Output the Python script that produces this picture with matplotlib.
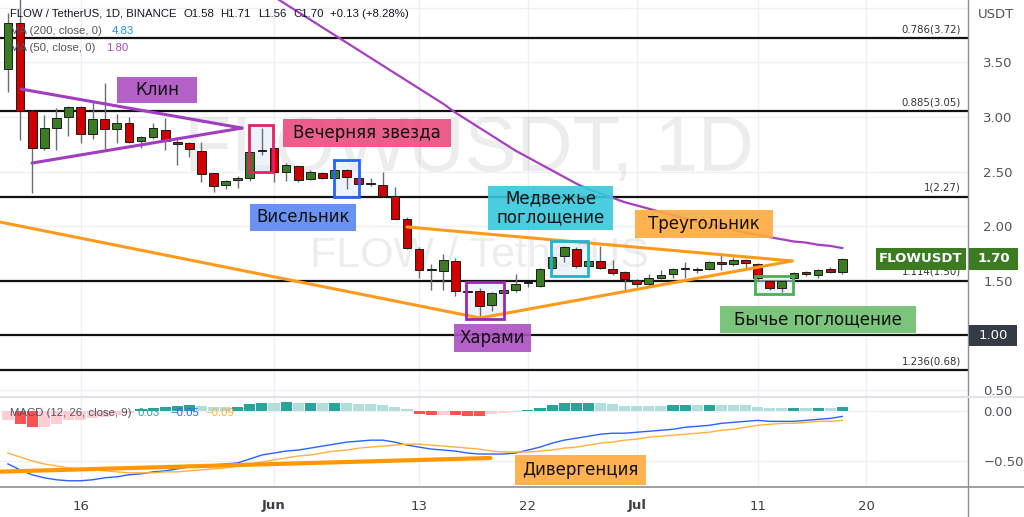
import numpy as np
import matplotlib
matplotlib.use("Agg")
import matplotlib.pyplot as plt
from matplotlib.patches import Rectangle
from matplotlib.lines import Line2D
from matplotlib.transforms import blended_transform_factory

# ---------------- data ----------------
opens = [3.44, 3.86, 3.05, 2.72, 2.90, 3.00, 3.09, 2.84, 2.98, 2.89,
         2.94, 2.78, 2.82, 2.88, 2.77, 2.76, 2.69, 2.49, 2.38, 2.42,
         2.44, 2.69, 2.72, 2.50, 2.55, 2.43, 2.49, 2.44, 2.51, 2.44,
         2.39, 2.38, 2.28, 2.07, 1.79, 1.60, 1.59, 1.68, 1.40, 1.41,
         1.28, 1.39, 1.42, 1.48, 1.45, 1.62, 1.73, 1.79, 1.64, 1.68,
         1.61, 1.58, 1.51, 1.47, 1.53, 1.56, 1.61, 1.60, 1.61, 1.67,
         1.65, 1.69, 1.65, 1.50, 1.43, 1.53, 1.58, 1.55, 1.61, 1.58]
highs = [3.95, 4.25, 3.06, 3.02, 3.08, 3.10, 3.10, 3.15, 3.31, 3.03,
         3.00, 2.83, 2.94, 2.99, 2.82, 2.77, 2.77, 2.49, 2.42, 2.46,
         2.68, 2.90, 2.72, 2.58, 2.55, 2.51, 2.50, 2.52, 2.52, 2.45,
         2.44, 2.50, 2.36, 2.08, 1.81, 1.65, 1.75, 1.71, 1.41, 1.43,
         1.40, 1.43, 1.56, 1.49, 1.62, 1.73, 1.82, 1.81, 1.69, 1.82,
         1.69, 1.59, 1.52, 1.56, 1.60, 1.62, 1.67, 1.63, 1.68, 1.74,
         1.72, 1.70, 1.66, 1.51, 1.51, 1.58, 1.59, 1.61, 1.63, 1.71]
lows = [3.23, 2.79, 2.30, 2.70, 2.70, 2.83, 2.76, 2.80, 2.71, 2.76,
        2.76, 2.72, 2.80, 2.70, 2.56, 2.63, 2.40, 2.31, 2.34, 2.35,
        2.41, 2.65, 2.40, 2.41, 2.40, 2.42, 2.43, 2.43, 2.34, 2.37,
        2.37, 2.27, 2.07, 1.79, 1.53, 1.42, 1.42, 1.36, 1.39, 1.17,
        1.22, 1.38, 1.40, 1.44, 1.44, 1.60, 1.67, 1.62, 1.62, 1.61,
        1.55, 1.42, 1.44, 1.44, 1.52, 1.53, 1.53, 1.57, 1.60, 1.60,
        1.64, 1.60, 1.50, 1.42, 1.40, 1.50, 1.54, 1.53, 1.57, 1.56]
closes = [3.86, 3.05, 2.72, 2.90, 2.99, 3.09, 2.84, 2.98, 2.89, 2.94,
          2.77, 2.82, 2.90, 2.78, 2.75, 2.71, 2.48, 2.37, 2.41, 2.44,
          2.68, 2.70, 2.50, 2.56, 2.42, 2.50, 2.44, 2.51, 2.45, 2.39,
          2.39, 2.28, 2.07, 1.80, 1.60, 1.61, 1.69, 1.41, 1.40, 1.27,
          1.39, 1.42, 1.47, 1.48, 1.61, 1.72, 1.81, 1.64, 1.68, 1.62,
          1.57, 1.52, 1.47, 1.53, 1.55, 1.61, 1.61, 1.60, 1.67, 1.65,
          1.69, 1.66, 1.53, 1.43, 1.50, 1.57, 1.56, 1.60, 1.58, 1.70]

ma50 = [np.nan] * 20 + [
    4.24, 4.17, 4.10, 4.03, 3.96, 3.89, 3.82, 3.75, 3.68, 3.61,
    3.54, 3.47, 3.40, 3.33, 3.26, 3.19, 3.12, 3.04, 2.97, 2.90,
    2.83, 2.76, 2.69, 2.63, 2.57, 2.51, 2.45, 2.39, 2.34, 2.30,
    2.26, 2.22, 2.19, 2.16, 2.13, 2.10, 2.07, 2.04, 2.02, 1.99,
    1.97, 1.94, 1.92, 1.90, 1.88, 1.86, 1.85, 1.83, 1.82, 1.80]

macd_hist = [-0.09, -0.125, -0.16, -0.155, -0.125, -0.09, -0.085, -0.07, -0.06, -0.04, -0.02,
             0.027, 0.035, 0.044, 0.06, 0.067, 0.054, 0.044, 0.043, 0.045, 0.077, 0.087,
             0.085, 0.094, 0.087, 0.088, 0.086, 0.087, 0.085, 0.077, 0.075, 0.067, 0.044, 0.020,
             -0.023, -0.034, -0.033, -0.040, -0.041, -0.042, -0.03, -0.02, -0.005, 0.017,
             0.034, 0.067, 0.087, 0.088, 0.089, 0.087, 0.077, 0.06, 0.059, 0.058, 0.057,
             0.066, 0.067, 0.065, 0.067, 0.065, 0.064, 0.063, 0.044, 0.034, 0.033, 0.034,
             0.033, 0.034, 0.033, 0.044]
macd_line = [-0.53, -0.59, -0.64, -0.67, -0.69, -0.70, -0.70, -0.69, -0.67, -0.66,
             -0.64, -0.63, -0.61, -0.60, -0.58, -0.56, -0.55, -0.54, -0.53, -0.52,
             -0.48, -0.44, -0.42, -0.40, -0.39, -0.37, -0.35, -0.33, -0.31, -0.30,
             -0.29, -0.29, -0.31, -0.34, -0.36, -0.38, -0.39, -0.40, -0.42, -0.43,
             -0.43, -0.43, -0.42, -0.39, -0.36, -0.32, -0.29, -0.27, -0.25, -0.23,
             -0.22, -0.22, -0.21, -0.20, -0.19, -0.18, -0.16, -0.15, -0.14, -0.12,
             -0.11, -0.10, -0.09, -0.10, -0.10, -0.10, -0.09, -0.08, -0.07, -0.05]
signal_line = [-0.42, -0.46, -0.50, -0.53, -0.55, -0.57, -0.58, -0.59, -0.60, -0.61,
               -0.62, -0.62, -0.62, -0.61, -0.61, -0.60, -0.59, -0.58, -0.57, -0.55,
               -0.53, -0.51, -0.49, -0.47, -0.45, -0.44, -0.42, -0.40, -0.39, -0.37,
               -0.36, -0.35, -0.34, -0.33, -0.33, -0.34, -0.35, -0.36, -0.37, -0.38,
               -0.40, -0.41, -0.41, -0.41, -0.40, -0.39, -0.37, -0.36, -0.34, -0.32,
               -0.31, -0.29, -0.28, -0.26, -0.25, -0.24, -0.23, -0.22, -0.21, -0.19,
               -0.18, -0.16, -0.14, -0.13, -0.12, -0.12, -0.11, -0.10, -0.10, -0.09]

# first candle is 10 May; tick positions in candle-index units
tick_pos = [6, 22, 34, 43, 52, 62, 71]
tick_labels = ["16", "Jun", "13", "22", "Jul", "11", "20"]
price_ticks = [0.5, 1.5, 2.0, 2.5, 3.0, 3.5]
price_tick_labels = ["0.50", "1.50", "2.00", "2.50", "3.00", "3.50"]
fib_levels = [3.72, 3.05, 2.27, 1.50, 0.68]
fib_labels = ["0.786(3.72)", "0.885(3.05)", "1(2.27)", "1.114(1.50)", "1.236(0.68)"]
round_level = 1.00

# drawings (anchored in candle index / price)
wedge_upper = [(1.08, 3.255), (19.35, 2.898)]
wedge_lower = [(1.99, 2.578), (19.35, 2.898)]
tri_upper = [(33.0, 1.993), (64.85, 1.682)]
tri_lower = [(39.04, 1.160), (64.85, 1.682)]
long_line = [(-0.66, 2.038), (39.04, 1.160)]
div_line = [(-0.66, -0.608), (39.9, -0.47)]
boxes = [  # (i0, i1, p_low, p_high, color)
    (19.93, 21.95, 2.496, 2.925, "#E91E63"),
    (26.96, 29.03, 2.27, 2.606, "#2962FF"),
    (44.9, 48.0, 1.544, 1.867, "#19B6CF"),
    (37.9, 41.0, 1.154, 1.487, "#9C27B0"),
    (61.8, 64.95, 1.377, 1.547, "#4CAF50"),
]

# ---------------- figure ----------------
W, H = 1024, 517
fig = plt.figure(figsize=(W / 100, H / 100), dpi=100)
fig.patch.set_facecolor("white")
PXR = 968
ax = fig.add_axes([0, (H - 397) / H, PXR / W, 397 / H])
axm = fig.add_axes([0, (H - 487) / H, PXR / W, 90 / H], sharex=ax)

XL = (-0.66, 79.4)
ax.set_xlim(*XL)
ax.set_ylim(0.437, 4.070)
axm.set_ylim(-0.763, 0.146)

GRID = "#eef0f5"
for a in (ax, axm):
    for s in a.spines.values():
        s.set_visible(False)
    for t in tick_pos:
        a.axvline(t, color=GRID, lw=1.0, zorder=0)
for y in [0.5, 1.5, 2.0, 2.5, 3.0, 3.5, 4.0]:
    ax.axhline(y, color=GRID, lw=1.0, zorder=0)
for y in [0.0, -0.5]:
    axm.axhline(y, color=GRID, lw=1.0, zorder=0)

# watermark
ax.text(0.485, 0.62, "FLOWUSDT, 1D", transform=ax.transAxes, ha="center", va="center",
        fontsize=56, color="#000000", alpha=0.07, family="Liberation Sans", zorder=0.5)
ax.text(0.495, 0.355, "FLOW / TetherUS", transform=ax.transAxes, ha="center", va="center",
        fontsize=31, color="#000000", alpha=0.07, family="Liberation Sans", zorder=0.5)

# fib / level lines
for lv, lb in zip(fib_levels, fib_labels):
    ax.axhline(lv, color="#111111", lw=1.6, zorder=1.5)
    ax.annotate(lb, xy=(0.993, lv), xycoords=blended_transform_factory(ax.transAxes, ax.transData),
                xytext=(0, 3), textcoords="offset points", ha="right", va="bottom",
                fontsize=7.3, color="#333333", zorder=2)
ax.axhline(round_level, color="#111111", lw=1.6, zorder=1.5)

# pattern boxes
for i0, i1, p0, p1, col in boxes:
    ax.add_patch(Rectangle((i0, p0), i1 - i0, p1 - p0, facecolor="#dfeaf8", alpha=0.55,
                           edgecolor="none", zorder=1.8))
    ax.add_patch(Rectangle((i0, p0), i1 - i0, p1 - p0, facecolor="none",
                           edgecolor=col, lw=2.0, zorder=4.5))

# candles
GREEN = "#3B7B22"
RED = "#D10000"
for i, (o, h, l, c) in enumerate(zip(opens, highs, lows, closes)):
    ax.vlines(i, l, h, color="#6a6d75", lw=1.0, zorder=2.5)
    col = GREEN if c >= o else RED
    lo = min(o, c)
    hgt = max(abs(c - o), 0.006)
    ax.add_patch(Rectangle((i - 0.36, lo), 0.72, hgt, facecolor=col,
                           edgecolor="#1c1c1c", lw=0.7, zorder=3))

# MA 50
ax.plot(range(len(ma50)), ma50, color="#A63FC0", lw=1.6, zorder=3.5)

# drawings
def seg(a, pts, col, lw, z=4):
    (x0, y0), (x1, y1) = pts
    a.plot([x0, x1], [y0, y1], color=col, lw=lw, solid_capstyle="round", zorder=z)

seg(ax, wedge_upper, "#A23CC0", 2.2)
seg(ax, wedge_lower, "#A23CC0", 2.2)
seg(ax, tri_upper, "#FF9A1A", 2.2)
seg(ax, tri_lower, "#FF9A1A", 2.2)
seg(ax, long_line, "#FF9A1A", 2.2)

# MACD pane
hcols = []
for i, v in enumerate(macd_hist):
    prev = macd_hist[i - 1] if i > 0 else v - 0.001
    if v >= 0:
        hcols.append("#26A69A" if v >= prev else "#B2DFDB")
    else:
        hcols.append("#FFCDD2" if v >= prev else "#FF5252")
axm.bar(range(len(macd_hist)), macd_hist, width=0.92, color=hcols, zorder=2)
axm.plot(range(len(macd_line)), macd_line, color="#2962FF", lw=1.0, zorder=3)
axm.plot(range(len(signal_line)), signal_line, color="#FFB13B", lw=1.0, zorder=3)
seg(axm, div_line, "#FF9800", 3.0)

# axes ticks
ax.yaxis.tick_right()
ax.set_yticks(price_ticks)
ax.set_yticklabels(price_tick_labels)
ax.tick_params(axis="y", length=0, pad=11, labelsize=9.5, labelcolor="#50535e")
ax.tick_params(axis="x", length=0, labelbottom=False)
axm.yaxis.tick_right()
axm.set_yticks([0.0, -0.5])
axm.set_yticklabels(["0.00", "\u22120.50"])
axm.tick_params(axis="y", length=0, pad=11, labelsize=9.5, labelcolor="#50535e")
axm.set_xticks(tick_pos)
axm.set_xticklabels(tick_labels)
axm.tick_params(axis="x", length=0, pad=9, labelsize=9.5, labelcolor="#3d4049")
for t in axm.get_xticklabels():
    if t.get_text() in ("Jun", "Jul"):
        t.set_fontweight("bold")
ax.set_xlim(*XL)

# separators
fig.add_artist(Line2D([PXR / W, PXR / W], [0, 1], color="#8c8f98", lw=1.0, transform=fig.transFigure))
fig.add_artist(Line2D([0, 1], [1 - 397 / H, 1 - 397 / H], color="#e0e3eb", lw=1.5, transform=fig.transFigure))
fig.add_artist(Line2D([0, 1], [1 - 487 / H, 1 - 487 / H], color="#8c8f98", lw=1.2, transform=fig.transFigure))

# helper for pixel-placed label boxes
def px_box(x0, y0, x1, y1, fc, text, fs=12.0, color="#111111", alpha=0.9, weight="normal", z=6):
    fig.patches.append(Rectangle((x0 / W, 1 - y1 / H), (x1 - x0) / W, (y1 - y0) / H,
                                 transform=fig.transFigure, facecolor=fc, edgecolor="none",
                                 alpha=alpha, zorder=z))
    fig.text((x0 + x1) / 2 / W, 1 - (y0 + y1) / 2 / H, text, ha="center", va="center",
             fontsize=fs, color=color, zorder=z + 0.5, linespacing=1.05, fontweight=weight)

px_box(117, 77, 197, 103, "#AB50C0", "Клин")
px_box(283, 119, 451, 147, "#EC4C7F", "Вечерняя звезда")
px_box(250, 204, 356, 231, "#5A86F2", "Висельник")
px_box(488, 186, 613, 230, "#35C8DC", "Медвежье\nпоглощение")
px_box(635, 210, 773, 238, "#FFAA3C", "Треугольник")
px_box(454, 324, 531, 352, "#AB50C0", "Харами")
px_box(720, 306, 916, 333, "#6DBE6D", "Бычье поглощение")
px_box(515, 455, 646, 485, "#FFAA3C", "Дивергенция")

# price-scale labels
px_box(876, 248, 966, 270, "#3B7B22", "FLOWUSDT", fs=9.5, color="white", alpha=1, weight="bold")
px_box(969, 248, 1018, 270, "#3B7B22", "1.70", fs=9.5, color="white", alpha=1, weight="bold")
px_box(969, 325, 1017, 346, "#363A45", "1.00", fs=9.5, color="white", alpha=1)
fig.text(978 / W, 1 - 15 / H, "USDT", fontsize=9.5, color="#50535e", va="center")

# header texts
def ftxt(x, y, s, col="#131722", fs=8.2):
    fig.text(x / W, 1 - y / H, s, fontsize=fs, color=col, va="center", ha="left", zorder=7,
             family="Liberation Sans")

ftxt(10, 14, "FLOW / TetherUS, 1D, BINANCE")
ftxt(183, 14, "O1.58")
ftxt(220, 14, "H1.71")
ftxt(258, 14, "L1.56")
ftxt(293, 14, "C1.70")
ftxt(330, 14, "+0.13 (+8.28%)")
ftxt(10, 31, "MA (200, close, 0)", col="#50535e")
ftxt(112, 31, "4.83", col="#2196F3")
ftxt(10, 48, "MA (50, close, 0)", col="#50535e")
ftxt(106, 48, "1.80", col="#AB47BC")
ftxt(10, 413, "MACD (12, 26, close, 9)", col="#50535e")
ftxt(138, 413, "0.03", col="#26A69A")
ftxt(170, 413, "\u22120.05", col="#2962FF")
ftxt(205, 413, "\u22120.09", col="#FFB13B")

fig.savefig("out.png", dpi=100, facecolor="white")
